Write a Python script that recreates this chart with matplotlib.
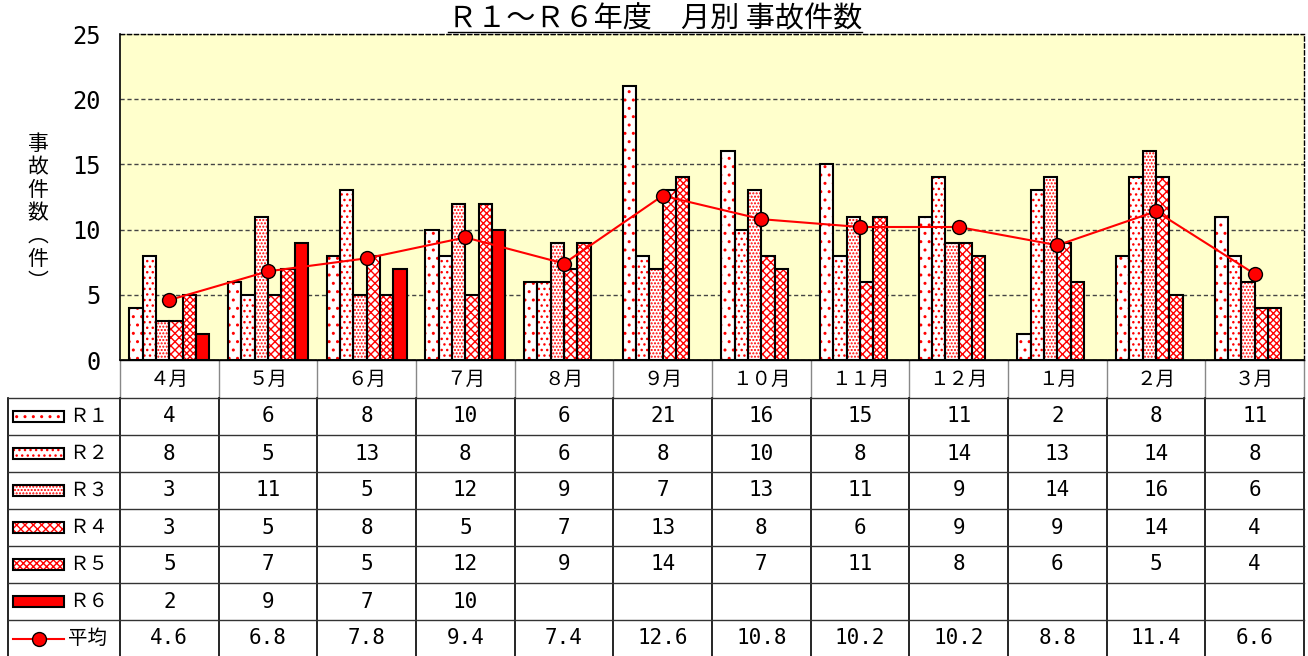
import numpy as np
import matplotlib
matplotlib.use("Agg")
import matplotlib.pyplot as plt
from matplotlib.patches import Rectangle

plt.rcParams['font.family'] = ['Noto Sans CJK JP', 'DejaVu Sans']
plt.rcParams['hatch.linewidth'] = 1.0

# ---- data ----
title = "Ｒ１～Ｒ６年度　月別 事故件数"
ylabel = "事故件数︵件︶"
months = ['４月', '５月', '６月', '７月', '８月', '９月', '１０月', '１１月', '１２月', '１月', '２月', '３月']
series_names = ['Ｒ１', 'Ｒ２', 'Ｒ３', 'Ｒ４', 'Ｒ５', 'Ｒ６']
r1 = [4, 6, 8, 10, 6, 21, 16, 15, 11, 2, 8, 11]
r2 = [8, 5, 13, 8, 6, 8, 10, 8, 14, 13, 14, 8]
r3 = [3, 11, 5, 12, 9, 7, 13, 11, 9, 14, 16, 6]
r4 = [3, 5, 8, 5, 7, 13, 8, 6, 9, 9, 14, 4]
r5 = [5, 7, 5, 12, 9, 14, 7, 11, 8, 6, 5, 4]
r6 = [2, 9, 7, 10, None, None, None, None, None, None, None, None]
avg_name = '平均'
avg = [4.6, 6.8, 7.8, 9.4, 7.4, 12.6, 10.8, 10.2, 10.2, 8.8, 11.4, 6.6]
yticks = [0, 5, 10, 15, 20, 25]

series = [r1, r2, r3, r4, r5, r6]
hatches = ['..', '...', '.....', 'xxxx', 'xxxxx', None]

# ---- layout (pixels) ----
W, H = 1308, 656
L, R, T, B = 120, 1304, 34, 360
fig = plt.figure(figsize=(W / 100, H / 100), dpi=100)
ax = fig.add_axes([L / W, 1 - B / H, (R - L) / W, (B - T) / H])
ax.set_facecolor('#FFFFCC')
ax.set_xlim(-0.5, len(months) - 0.5)
ax.set_ylim(0, 25)
ax.set_yticks(yticks)
ax.set_xticks([])
ax.yaxis.grid(True, linestyle=(0, (3, 2)), color='#444444', lw=1)
ax.set_axisbelow(True)
ax.tick_params(axis='y', length=0, pad=14, labelsize=17)
for lab in ax.get_yticklabels():
    lab.set_fontfamily('DejaVu Sans Mono')
for s in ['top', 'right']:
    ax.spines[s].set_linestyle((0, (3, 2)))
    ax.spines[s].set_linewidth(1)
ax.spines['left'].set_linewidth(1.2)
ax.spines['bottom'].set_linewidth(1.2)

bw = 13.3 / ((R - L) / len(months))
x0 = np.arange(len(months))
for i, (vals, h) in enumerate(zip(series, hatches)):
    xs = [x0[k] + (i - 2.5) * bw for k, v in enumerate(vals) if v is not None]
    vs = [v for v in vals if v is not None]
    if h is None:
        ax.bar(xs, vs, bw, color='#FF0000', edgecolor='black', lw=1.5, zorder=2)
    else:
        ax.bar(xs, vs, bw, facecolor='white', edgecolor='#FF0000', hatch=h, lw=0, zorder=2)
        ax.bar(xs, vs, bw, fill=False, edgecolor='black', lw=1.5, zorder=3)

ax.plot(x0, avg, color='#FF0000', lw=1.5, marker='o', ms=10, mfc='#FF0000',
        mec='black', mew=1, zorder=5)

# ---- overlay for text and table ----
tab = fig.add_axes([0, 0, 1, 1])
tab.set_xlim(0, W)
tab.set_ylim(H, 0)
tab.axis('off')

t = fig.text(655 / W, 1 - 19 / H, title, ha='center', va='center', fontsize=21)
fig.canvas.draw()
bb = t.get_window_extent()
tab.plot([bb.x0, bb.x1], [32, 32], color='black', lw=1)

fig.text(38 / W, 1 - 213 / H, "\n".join(ylabel), ha='center', va='center',
         fontsize=15, linespacing=1.06)

colw = (R - L) / len(months)
col_edges = [L + colw * k for k in range(len(months) + 1)]
row_h = 37
header_top, header_bot = B, 398
rows_y = [header_bot + row_h * k for k in range(8)]
left_x = 8

# header verticals
for xe in col_edges:
    tab.plot([xe, xe], [header_top, header_bot], color='#888888', lw=1)
# body verticals
for xe in [left_x] + col_edges:
    tab.plot([xe, xe], [header_bot, rows_y[-1] + 2], color='black', lw=1.2)
# horizontals
tab.plot([L, R], [header_top, header_top], color='black', lw=1)
for yy in rows_y:
    tab.plot([left_x, R], [yy, yy], color='#333333', lw=1)

for k, m in enumerate(months):
    cx = (col_edges[k] + col_edges[k + 1]) / 2
    tab.text(cx, (header_top + header_bot) / 2, m, ha='center', va='center', fontsize=14)

num_font = ['DejaVu Sans Mono']
for i, (name, vals, h) in enumerate(zip(series_names, series, hatches)):
    cy = (rows_y[i] + rows_y[i + 1]) / 2
    if h is None:
        tab.add_patch(Rectangle((13, cy - 5.5), 51, 11, facecolor='#FF0000', edgecolor='black', lw=1.5))
    else:
        tab.add_patch(Rectangle((13, cy - 5.5), 51, 11, facecolor='white', edgecolor='#FF0000', hatch=h, lw=0))
        tab.add_patch(Rectangle((13, cy - 5.5), 51, 11, fill=False, edgecolor='black', lw=1.5))
    tab.text(69, cy, name, ha='left', va='center', fontsize=14)
    for k, v in enumerate(vals):
        if v is None:
            continue
        cx = (col_edges[k] + col_edges[k + 1]) / 2
        tab.text(cx, cy, str(v), ha='center', va='center', fontsize=15, family=num_font)

cy = (rows_y[6] + rows_y[7]) / 2
tab.plot([13, 64], [cy, cy], color='#FF0000', lw=1.5)
tab.plot([38.5], [cy], marker='o', ms=10, mfc='#FF0000', mec='black', mew=1)
tab.text(68, cy, avg_name, ha='left', va='center', fontsize=14)
for k, v in enumerate(avg):
    cx = (col_edges[k] + col_edges[k + 1]) / 2
    tab.text(cx, cy, f"{v:.1f}", ha='center', va='center', fontsize=15, family=num_font)

fig.savefig('out.png', dpi=100)
